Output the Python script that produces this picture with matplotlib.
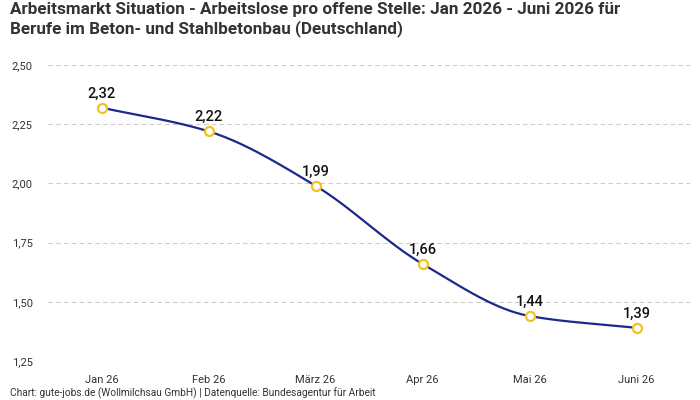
import numpy as np
import matplotlib
matplotlib.use("Agg")
import matplotlib.pyplot as plt

months = ["Jan 26", "Feb 26", "März 26", "Apr 26", "Mai 26", "Juni 26"]
values = [2.32, 2.22, 1.99, 1.66, 1.44, 1.39]
yticks = [1.25, 1.50, 1.75, 2.00, 2.25, 2.50]

title = ("Arbeitsmarkt Situation - Arbeitslose pro offene Stelle: Jan 2026 - Juni 2026 für\n"
         "Berufe im Beton- und Stahlbetonbau (Deutschland)")
caption = "Chart: gute-jobs.de (Wollmilchsau GmbH) | Datenquelle: Bundesagentur für Arbeit"

plt.rcParams['font.family'] = ['Roboto', 'DejaVu Sans']


def monotone_curve(x, y, n=40):
    x = np.asarray(x, float)
    y = np.asarray(y, float)
    h = np.diff(x)
    d = np.diff(y) / h
    m = np.zeros_like(y)
    m[0] = d[0]
    m[-1] = d[-1]
    for i in range(1, len(y) - 1):
        if d[i - 1] * d[i] <= 0:
            m[i] = 0
        else:
            w1 = 2 * h[i] + h[i - 1]
            w2 = h[i] + 2 * h[i - 1]
            m[i] = (w1 + w2) / (w1 / d[i - 1] + w2 / d[i])
    xs, ys = [], []
    for i in range(len(x) - 1):
        t = np.linspace(0, 1, n)
        h00 = 2 * t**3 - 3 * t**2 + 1
        h10 = t**3 - 2 * t**2 + t
        h01 = -2 * t**3 + 3 * t**2
        h11 = t**3 - t**2
        xs.append(x[i] + t * h[i])
        ys.append(h00 * y[i] + h10 * h[i] * m[i] + h01 * y[i + 1] + h11 * h[i] * m[i + 1])
    return np.concatenate(xs), np.concatenate(ys)


fig = plt.figure(figsize=(7, 4), dpi=100)
ax = fig.add_axes([48 / 700, 1 - 361 / 400, 642 / 700, 296 / 400])

x = np.arange(len(months))
cx, cy = monotone_curve(x, values)
ax.plot(cx, cy, color="#1b2a8a", lw=1.6, zorder=3)
ax.plot(x, values, ls="none", marker="o", ms=6.5, mfc="white", mec="#f5c21b", mew=1.6, zorder=4)
for xi, v in zip(x, values):
    ax.annotate(f"{v:.2f}".replace(".", ","), (xi, v), xytext=(0, 5), textcoords="offset points",
                ha="center", va="bottom", fontsize=10.5, color="#111111", fontweight="medium")

ax.set_xlim(-0.5, len(months) - 0.5)
ax.set_ylim(1.25, 2.5)
ax.set_yticks(yticks)
ax.set_yticklabels([f"{t:.2f}".replace(".", ",") for t in yticks])
ax.set_xticks(x)
ax.set_xticklabels(months)
ax.tick_params(axis="both", length=0, labelsize=8, colors="#333333")
ax.tick_params(axis="y", pad=11)
ax.tick_params(axis="x", pad=10)
ax.grid(axis="y", color="#cccccc", ls=(0, (4, 3)), lw=0.8)
for s in ax.spines.values():
    s.set_visible(False)

fig.text(10 / 700, 1 - 2 / 400, title, ha="left", va="top", fontsize=12.3, fontweight="bold",
         color="#333333", linespacing=1.2)
fig.text(10 / 700, 1 - 393 / 400, caption, ha="left", va="center", fontsize=7.3, color="#333333")

fig.savefig("out.png", dpi=100)
